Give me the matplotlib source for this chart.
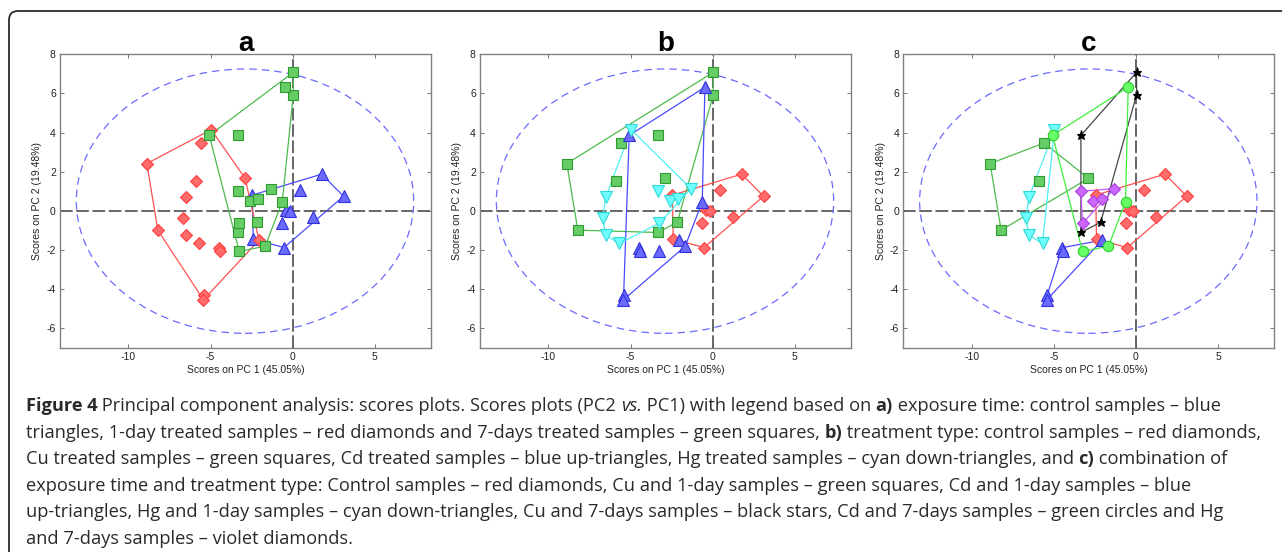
import numpy as np
import matplotlib
matplotlib.use("Agg")
import matplotlib.pyplot as plt
from matplotlib.patches import Ellipse, FancyBboxPatch

plt.rcParams["axes.unicode_minus"] = False

# ---------------- data (PC1, PC2 scores) ----------------
ctrl_x = [1.77, 3.10, 0.47, -2.45, -0.43, -0.16, -0.62, 1.25, -2.40, -0.52]
ctrl_y = [1.88, 0.75, 1.05, 0.81, 0.05, -0.02, -0.60, -0.30, -1.44, -1.87]

cu1_x = [-8.88, -5.59, -5.91, -2.89, -8.21]
cu1_y = [2.42, 3.47, 1.51, 1.66, -0.98]
cu7_x = [0.04, 0.04, -3.35, -3.35, -2.15]
cu7_y = [7.08, 5.92, 3.86, -1.10, -0.58]
cd1_x = [-2.05, -4.49, -4.45, -5.39, -5.43]
cd1_y = [-1.49, -1.88, -2.07, -4.27, -4.54]
cd7_x = [-0.47, -5.08, -0.63, -1.67, -3.25]
cd7_y = [6.32, 3.86, 0.47, -1.80, -2.07]
hg1_x = [-4.96, -6.52, -6.69, -6.52, -5.69]
hg1_y = [4.15, 0.69, -0.34, -1.24, -1.66]
hg7_x = [-1.32, -3.35, -2.60, -2.09, -3.25]
hg7_y = [1.14, 1.00, 0.51, 0.59, -0.63]

ellipse_center = (-2.9, 0.5)
ellipse_axes = (20.55, 13.5)   # full width, full height

panel_titles = ["a", "b", "c"]
xlabel = "Scores on PC 1 (45.05%)"
ylabel = "Scores on PC 2 (19.48%)"
xticks = [-10, -5, 0, 5]
yticks = [-6, -4, -2, 0, 2, 4, 6, 8]

# ---------------- styles ----------------
RED = dict(marker="D", mfc="#ff6b6b", mec="#ff4040", ms=6, lc="#ff5050")
GRN = dict(marker="s", mfc="#66cc66", mec="#2f9a2f", ms=7, lc="#4cbb4c")
BLU = dict(marker="^", mfc="#6b6bff", mec="#3030dd", ms=8, lc="#4a4aff")
CYA = dict(marker="v", mfc="#70ffff", mec="#30d8d8", ms=8, lc="#50f0f0")
BLK = dict(marker="*", mfc="#000000", mec="#000000", ms=6.5, lc="#444444")
LGR = dict(marker="o", mfc="#66ff66", mec="#30cc30", ms=7.5, lc="#40ee40")
VIO = dict(marker="D", mfc="#cc66ff", mec="#aa40e0", ms=6, lc="#c855ff")


def hull(xs, ys):
    pts = sorted(set(zip(xs, ys)))
    if len(pts) < 3:
        return pts

    def cross(o, a, b):
        return (a[0] - o[0]) * (b[1] - o[1]) - (a[1] - o[1]) * (b[0] - o[0])
    lower, upper = [], []
    for p in pts:
        while len(lower) >= 2 and cross(lower[-2], lower[-1], p) <= 0:
            lower.pop()
        lower.append(p)
    for p in reversed(pts):
        while len(upper) >= 2 and cross(upper[-2], upper[-1], p) <= 0:
            upper.pop()
        upper.append(p)
    h = lower[:-1] + upper[:-1]
    return h + [h[0]]


def draw_group(ax, xs, ys, st):
    h = hull(xs, ys)
    hx, hy = zip(*h)
    ax.plot(hx, hy, color=st["lc"], lw=0.9, zorder=3)
    ax.plot(xs, ys, linestyle="none", marker=st["marker"], mfc=st["mfc"],
            mec=st["mec"], ms=st["ms"], mew=0.8, zorder=4)


panels = [
    [(ctrl_x, ctrl_y, BLU),
     (cu1_x + cd1_x + hg1_x, cu1_y + cd1_y + hg1_y, RED),
     (cu7_x + cd7_x + hg7_x, cu7_y + cd7_y + hg7_y, GRN)],
    [(ctrl_x, ctrl_y, RED),
     (cu1_x + cu7_x, cu1_y + cu7_y, GRN),
     (cd1_x + cd7_x, cd1_y + cd7_y, BLU),
     (hg1_x + hg7_x, hg1_y + hg7_y, CYA)],
    [(ctrl_x, ctrl_y, RED),
     (cu1_x, cu1_y, GRN),
     (cd1_x, cd1_y, BLU),
     (hg1_x, hg1_y, CYA),
     (cu7_x, cu7_y, BLK),
     (cd7_x, cd7_y, LGR),
     (hg7_x, hg7_y, VIO)],
]

W, H = 1282, 552
fig = plt.figure(figsize=(W / 100, H / 100), dpi=100)
fig.patch.set_facecolor("white")

lefts = [60, 480, 903.3]
ax_w = 371.0
ax_top, ax_bot = 54.3, 348.0

for i, left in enumerate(lefts):
    ax = fig.add_axes([left / W, 1 - ax_bot / H, ax_w / W, (ax_bot - ax_top) / H])
    ax.set_xlim(-14.17, 8.43)
    ax.set_ylim(-7, 8)
    ax.axhline(0, color="#5a5a5a", lw=1.3, ls=(0, (7, 2)), zorder=2)
    ax.axvline(0, color="#5a5a5a", lw=1.3, ls=(0, (7, 2)), zorder=2)
    ax.add_patch(Ellipse(ellipse_center, ellipse_axes[0], ellipse_axes[1],
                         fill=False, edgecolor="#6a6aff", lw=0.9,
                         ls=(0, (6, 4)), zorder=2))
    for xs, ys, st in panels[i]:
        draw_group(ax, xs, ys, st)
    ax.set_xticks(xticks)
    ax.set_yticks(yticks)
    ax.tick_params(direction="in", length=3, width=0.7, colors="#777777",
                   labelcolor="#222222", labelsize=7.5, top=True, right=True,
                   pad=3, labelfontfamily="Liberation Sans")
    for sp in ax.spines.values():
        sp.set_color("#808080")
        sp.set_linewidth(1.0)
    ax.set_xlabel(xlabel, fontsize=7.5, family="Liberation Sans", color="#222222", labelpad=2)
    ax.set_ylabel(ylabel, fontsize=7.5, family="Liberation Sans", color="#222222", labelpad=3)
    ax.set_title(panel_titles[i], fontsize=20, fontweight="bold",
                 family="Liberation Sans", pad=2.5)

# ---------------- frame ----------------
frame = FancyBboxPatch((9, -40), 1400, H - 11 + 40,
                       boxstyle="round,pad=0,rounding_size=9",
                       transform=None, fill=False, edgecolor="#1a1a1a", lw=1.2)
fig.patches.append(frame)

# ---------------- caption ----------------
B, R, I = "bold", "normal", "italic"
caption = [
    [(B, "Figure 4"), (R, " Principal component analysis: scores plots. Scores plots (PC2 "),
     (I, "vs."), (R, " PC1) with legend based on "), (B, "a)"),
     (R, " exposure time: control samples \u2013 blue")],
    [(R, "triangles, 1-day treated samples \u2013 red diamonds and 7-days treated samples \u2013 green squares, "),
     (B, "b)"), (R, " treatment type: control samples \u2013 red diamonds,")],
    [(R, "Cu treated samples \u2013 green squares, Cd treated samples \u2013 blue up-triangles, Hg treated samples \u2013 cyan down-triangles, and "),
     (B, "c)"), (R, " combination of")],
    [(R, "exposure time and treatment type: Control samples \u2013 red diamonds, Cu and 1-day samples \u2013 green squares, Cd and 1-day samples \u2013 blue")],
    [(R, "up-triangles, Hg and 1-day samples \u2013 cyan down-triangles, Cu and 7-days samples \u2013 black stars, Cd and 7-days samples \u2013 green circles and Hg")],
    [(R, "and 7-days samples \u2013 violet diamonds.")],
]
cap_font = "Open Sans"
renderer = fig.canvas.get_renderer()


def seg_width(text, style, size):
    kw = dict(fontsize=size, family=cap_font)
    if style == B:
        kw["fontweight"] = "bold"
    if style == I:
        kw["fontstyle"] = "italic"
    t1 = fig.text(0, 0, text + "|", **kw)
    t2 = fig.text(0, 0, "|", **kw)
    w = t1.get_window_extent(renderer).width - t2.get_window_extent(renderer).width
    t1.remove()
    t2.remove()
    return w, kw


# fit the font size so that line 2 spans the reference width
base = 12.0
w2 = sum(seg_width(t, s, base)[0] for s, t in caption[1])
cap_size = base * (1231.0 / w2)

x0 = 25.7
baselines = [411.0, 437.6, 464.2, 490.8, 517.4, 544.0]
for line, yb in zip(caption, baselines):
    x = x0
    for style, text in line:
        w, kw = seg_width(text, style, cap_size)
        fig.text(x / W, 1 - yb / H, text, va="baseline", ha="left",
                 color="#2a2a2a", **kw)
        x += w

fig.savefig("out.png", dpi=100)
